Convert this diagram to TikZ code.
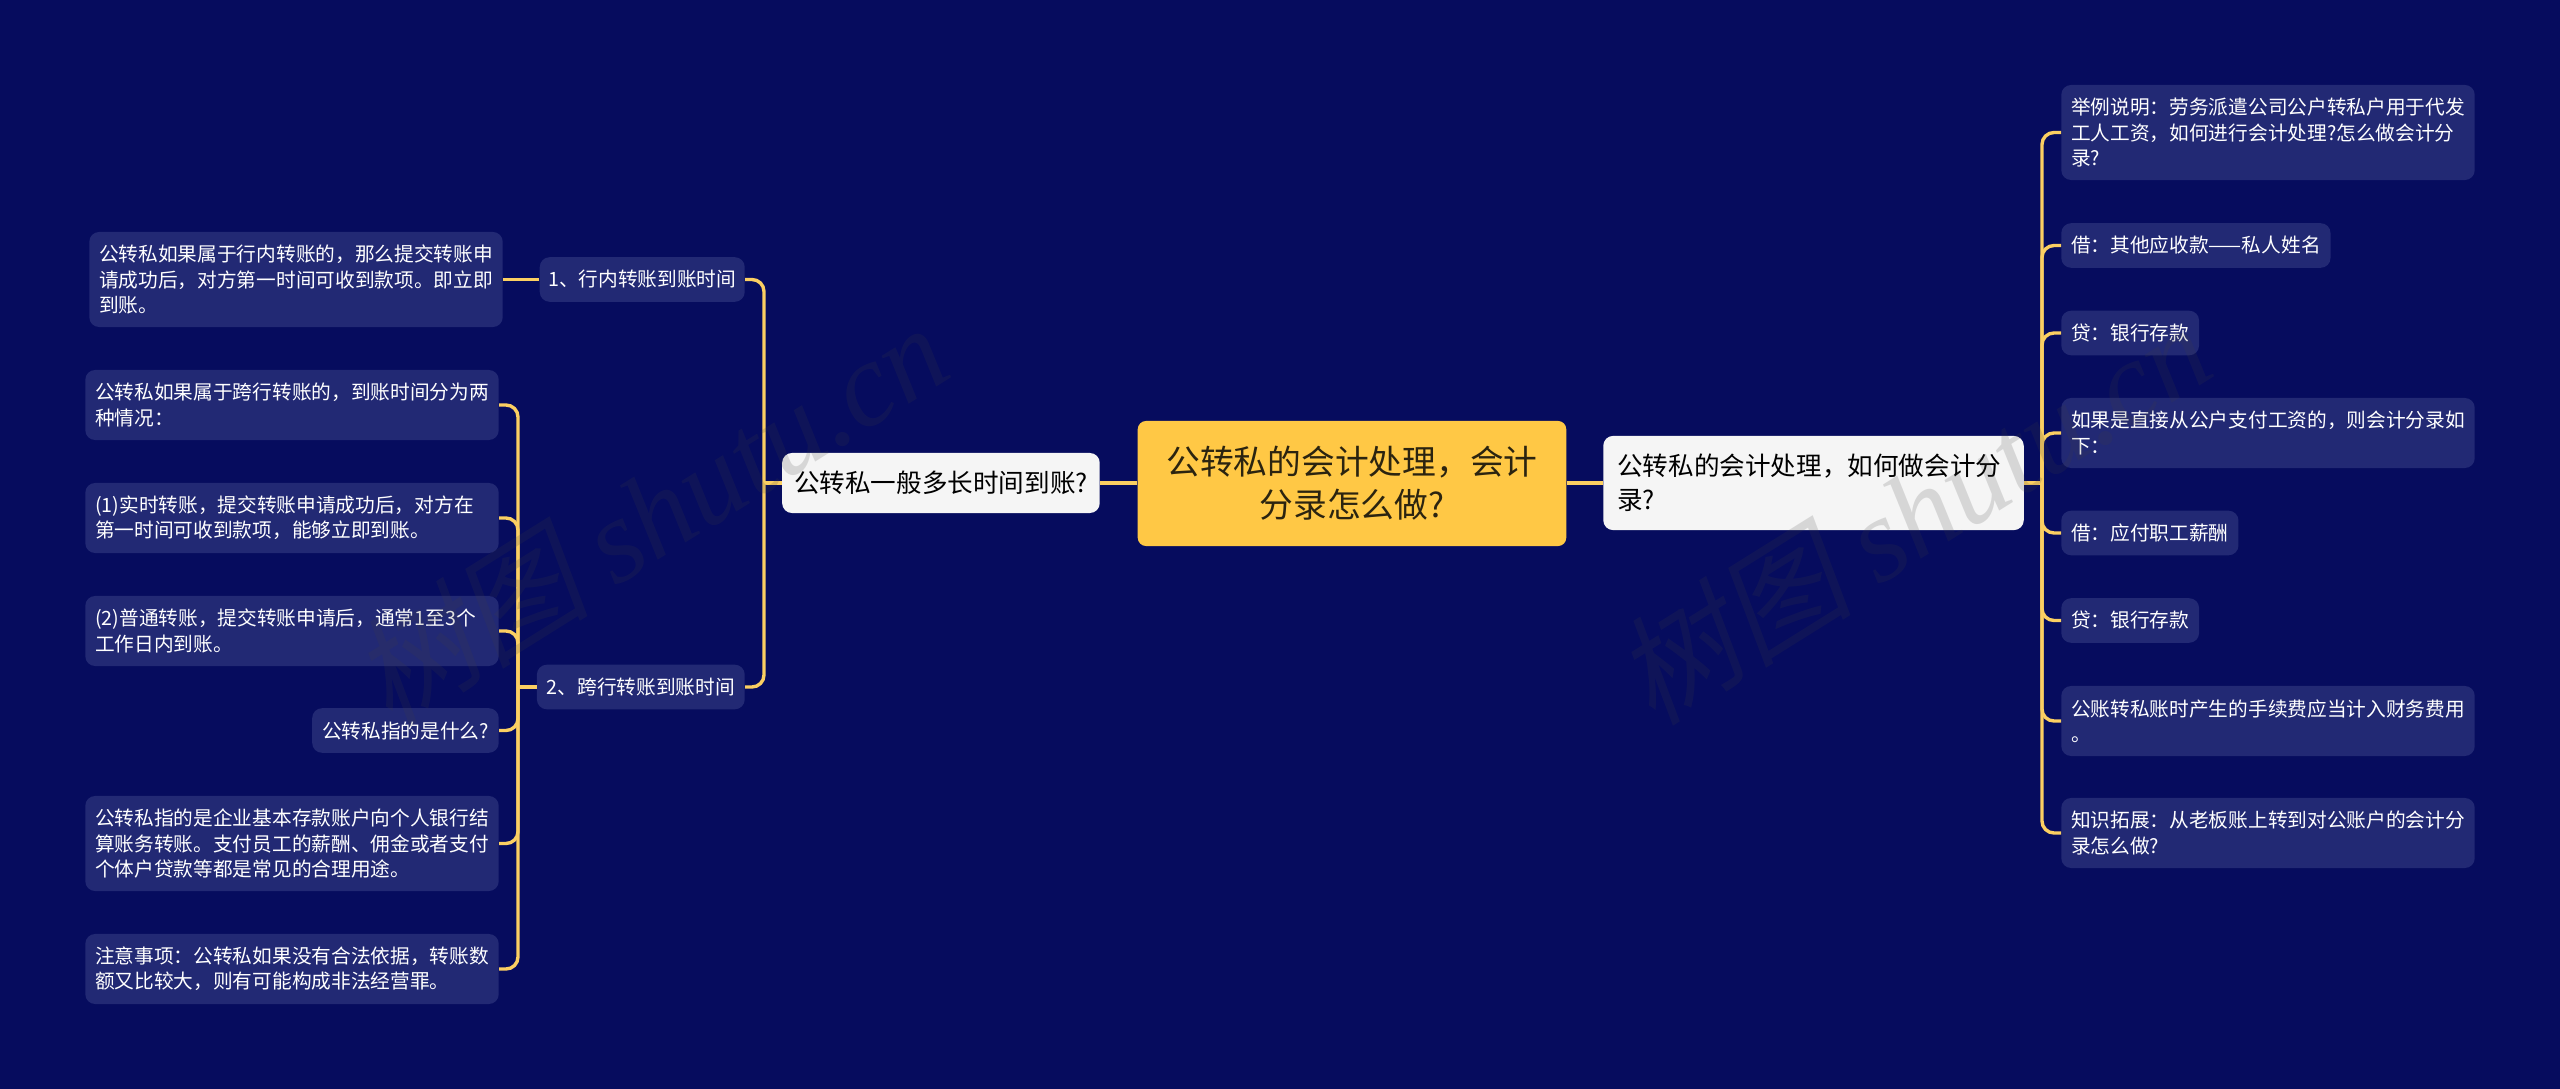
\documentclass[tikz,border=0pt]{standalone}
\usepackage{fontspec}
\setmainfont{Noto Sans CJK SC}
\newfontfamily\markcjk[FakeSlant=0.2]{Noto Sans CJK SC}
\newfontfamily\marklatin{Liberation Serif}
\usepackage{tikz}
\definecolor{nightbg}{HTML}{060C5E}
\definecolor{leafbg}{HTML}{222974}
\definecolor{rootbg}{HTML}{FFC845}
\definecolor{branchbg}{HTML}{F5F5F5}
\definecolor{linkcol}{HTML}{FBCF62}
\definecolor{rootink}{HTML}{2B2410}
\definecolor{markcol}{HTML}{404040}
\tikzset{
    leaf/.style={fill=leafbg,text=white,rounded corners=7pt,inner xsep=7pt,inner ysep=0pt,align=left,font=\fontsize{14}{18}\selectfont,minimum height=31.7pt},
    wideleaf/.style={leaf,text width=280pt},
    twolines/.style={wideleaf,minimum height=49.8pt},
    threelines/.style={wideleaf,minimum height=67.6pt},
    branch/.style={fill=branchbg,text=black,rounded corners=7pt,inner xsep=10pt,inner ysep=0pt,align=left,font=\fontsize{18.2}{24}\selectfont},
    root/.style={fill=rootbg,text=rootink,rounded corners=6pt,inner sep=0pt,align=center,font=\fontsize{24}{30.6}\selectfont,minimum width=304.8pt,minimum height=89pt},
    link/.style={linkcol,line width=2.4pt},
    curvelink/.style={link,rounded corners=8.5pt},
    watermark/.style={rotate=32,opacity=0.17,text=markcol,font=\fontsize{85}{85}\selectfont,inner sep=0pt}
}
\begin{document}
\begin{tikzpicture}[x=0.025cm,y=-0.025cm]
    \fill[nightbg] (0,0) rectangle (2560,1089);
    \useasboundingbox (0,0) rectangle (2560,1089);
    \coordinate (rjoin) at (2042,483);
    \coordinate (ljoin) at (764,483);
    \coordinate (kjoin) at (518,687);
    \node[root] (title) at (1352,483.5) {公转私的会计处理，会计\\分录怎么做?};
    \node[branch,anchor=east,minimum height=42.7pt,inner xsep=8.5pt] (lbranch) at (1100,483) {公转私一般多长时间到账?};
    \node[branch,anchor=west,text width=279pt,minimum height=67pt] (rbranch) at (1603,483) {公转私的会计处理，如何做会计分\\录?};
    \node[leaf,anchor=east,inner xsep=6pt] (inbank) at (745,279.5) {1、行内转账到账时间};
    \node[leaf,anchor=east] (crossbank) at (745,687) {2、跨行转账到账时间};
    \node[threelines,anchor=east] (inbanktext) at (503,279.5) {公转私如果属于行内转账的，那么提交转账申\\请成功后，对方第一时间可收到款项。即立即\\到账。};
    \node[twolines,anchor=east] (crossa) at (499,405) {公转私如果属于跨行转账的，到账时间分为两\\种情况：};
    \node[twolines,anchor=east] (crossb) at (499,518) {(1)实时转账，提交转账申请成功后，对方在\\第一时间可收到款项，能够立即到账。};
    \node[twolines,anchor=east] (crossc) at (499,631) {(2)普通转账，提交转账申请后，通常1至3个\\工作日内到账。};
    \node[leaf,anchor=east] (crossd) at (499,730.5) {公转私指的是什么?};
    \node[threelines,anchor=east] (crosse) at (499,843.5) {公转私指的是企业基本存款账户向个人银行结\\算账务转账。支付员工的薪酬、佣金或者支付\\个体户贷款等都是常见的合理用途。};
    \node[twolines,anchor=east] (crossf) at (499,969) {注意事项：公转私如果没有合法依据，转账数\\额又比较大，则有可能构成非法经营罪。};
    \node[threelines,anchor=west] (ra) at (2061,132.5) {举例说明：劳务派遣公司公户转私户用于代发\\工人工资，如何进行会计处理?怎么做会计分\\录?};
    \node[leaf,anchor=west] (rb) at (2061,245.5) {借：其他应收款——私人姓名};
    \node[leaf,anchor=west] (rc) at (2061,333) {贷：银行存款};
    \node[twolines,anchor=west] (rd) at (2061,433) {如果是直接从公户支付工资的，则会计分录如\\下：};
    \node[leaf,anchor=west] (re) at (2061,533) {借：应付职工薪酬};
    \node[leaf,anchor=west] (rf) at (2061,620.5) {贷：银行存款};
    \node[twolines,anchor=west] (rg) at (2061,721) {公账转私账时产生的手续费应当计入财务费用\\。};
    \node[twolines,anchor=west] (rh) at (2061,833) {知识拓展：从老板账上转到对公账户的会计分\\录怎么做?};
    \draw[link] (title.west |- lbranch.east) -- (lbranch.east);
    \draw[link] (title.east |- rbranch.west) -- (rbranch.west);
    \draw[link] (lbranch.west) -- (ljoin);
    \draw[link] (rbranch.east) -- (rjoin);
    \draw[curvelink] (ljoin) |- (inbank.east);
    \draw[curvelink] (ljoin) |- (crossbank.east);
    \draw[link] (inbank.west) -- (inbanktext.east);
    \draw[link] (crossbank.west) -- (kjoin);
    \draw[curvelink] (kjoin) |- (crossa.east);
    \draw[curvelink] (kjoin) |- (crossb.east);
    \draw[curvelink] (kjoin) |- (crossc.east);
    \draw[curvelink] (kjoin) |- (crossd.east);
    \draw[curvelink] (kjoin) |- (crosse.east);
    \draw[curvelink] (kjoin) |- (crossf.east);
    \draw[curvelink] (rjoin) |- (ra.west);
    \draw[curvelink] (rjoin) |- (rb.west);
    \draw[curvelink] (rjoin) |- (rc.west);
    \draw[curvelink] (rjoin) |- (rd.west);
    \draw[curvelink] (rjoin) |- (re.west);
    \draw[curvelink] (rjoin) |- (rf.west);
    \draw[curvelink] (rjoin) |- (rg.west);
    \draw[curvelink] (rjoin) |- (rh.west);
    \node[watermark] (markleft) at (649,513) {{\markcjk 树图} {\marklatin\itshape shutu.cn}};
    \node[watermark] (markright) at (1912,512) {{\markcjk 树图} {\marklatin\itshape shutu.cn}};
\end{tikzpicture}
\end{document}
